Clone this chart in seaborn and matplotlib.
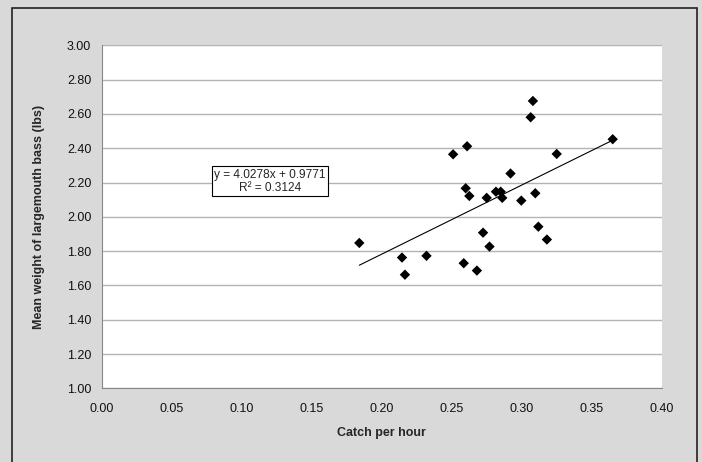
import matplotlib
matplotlib.use("Agg")
import matplotlib.pyplot as plt
from matplotlib.patches import Rectangle
import numpy as np
import pandas as pd
import seaborn as sns

# ---- data ----
catch_per_hour = [0.184, 0.2145, 0.2166, 0.232, 0.251, 0.261, 0.260, 0.2626,
                  0.2586, 0.268, 0.2724, 0.275, 0.277, 0.2816, 0.285, 0.2861,
                  0.292, 0.2997, 0.3064, 0.308, 0.3097, 0.3119, 0.318, 0.325, 0.365]
mean_weight = [1.848, 1.763, 1.663, 1.773, 2.365, 2.412, 2.167, 2.122,
               1.730, 1.687, 1.908, 2.111, 1.827, 2.147, 2.147, 2.111,
               2.253, 2.095, 2.581, 2.676, 2.138, 1.943, 1.868, 2.367, 2.453]
slope = 4.0278
intercept = 0.9771
r_squared = 0.3124
x_ticks = [0.00, 0.05, 0.10, 0.15, 0.20, 0.25, 0.30, 0.35, 0.40]
y_ticks = [1.00, 1.20, 1.40, 1.60, 1.80, 2.00, 2.20, 2.40, 2.60, 2.80, 3.00]
x_label = "Catch per hour"
y_label = "Mean weight of largemouth bass (lbs)"

df = pd.DataFrame({"x": catch_per_hour, "y": mean_weight})

sns.set_theme(style="white")
plt.rcParams['font.family'] = ['Liberation Sans', 'DejaVu Sans']

fig = plt.figure(figsize=(7.02, 4.62), dpi=100)
fig.patch.set_facecolor("#d9d9d9")
ax = fig.add_axes([101.7 / 702, (462 - 388.4) / 462, 560 / 702, 343 / 462])
ax.set_facecolor("white")

# gridlines
ax.set_axisbelow(True)
ax.yaxis.grid(True, color="#b3b3b3", linewidth=1.0)
ax.xaxis.grid(False)

sns.scatterplot(data=df, x="x", y="y", ax=ax, marker="D", s=28,
                color="black", edgecolor="none", linewidth=0, zorder=3)

# trendline
xs = np.array([min(catch_per_hour), max(catch_per_hour)])
ax.plot(xs, slope * xs + intercept, color="black", linewidth=0.8, zorder=2)

ax.set_xlim(0, 0.40)
ax.set_ylim(1.0, 3.0)
ax.set_xticks(x_ticks)
ax.set_yticks(y_ticks)
ax.set_xticklabels([f"{v:.2f}" for v in x_ticks])
ax.set_yticklabels([f"{v:.2f}" for v in y_ticks])
ax.tick_params(axis="both", labelsize=9, colors="#888888", labelcolor="#111111",
               direction="out", length=3.5, width=0.8)
ax.tick_params(axis="x", pad=7)
ax.tick_params(axis="y", pad=4)

for side in ["top", "right"]:
    ax.spines[side].set_visible(False)
for side in ["left", "bottom"]:
    ax.spines[side].set_color("#888888")
    ax.spines[side].set_linewidth(0.8)

ax.set_xlabel(x_label, fontsize=9, fontweight="bold", labelpad=9)
ax.set_ylabel(y_label, fontsize=9, fontweight="bold", labelpad=16)

ax.text(0.120, 2.207, f"y = {slope}x + {intercept}\nR² = {r_squared}",
        ha="center", va="center", fontsize=8.6, linespacing=1.15,
        bbox=dict(boxstyle="square,pad=0.2", facecolor="white",
                  edgecolor="black", linewidth=0.8), zorder=4)

# outer chart border
fig.patches.append(Rectangle((11.5 / 702, -0.05), (697 - 11.5) / 702,
                             (462 - 7.5) / 462 + 0.05, transform=fig.transFigure,
                             fill=False, edgecolor="#222222", linewidth=1.2))

fig.savefig("out.png", dpi=100, facecolor=fig.get_facecolor())
